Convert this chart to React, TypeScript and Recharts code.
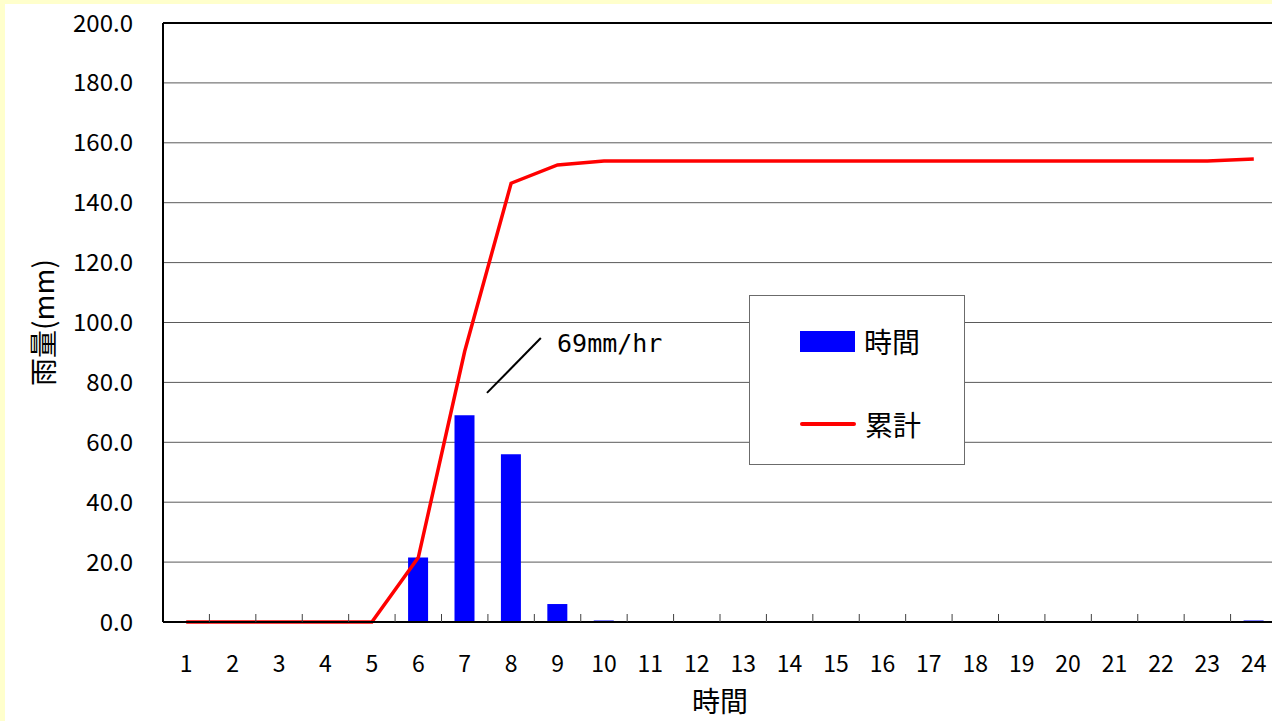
import {
  ComposedChart,
  Bar,
  Line,
  XAxis,
  YAxis,
  CartesianGrid,
  ReferenceLine,
  ReferenceDot,
  Legend,
} from 'recharts';

const hours = ['1', '2', '3', '4', '5', '6', '7', '8', '9', '10', '11', '12', '13', '14', '15', '16', '17', '18', '19', '20', '21', '22', '23', '24'];
const hourly = [0, 0, 0, 0, 0, 21.5, 69, 56, 6, 0.5, 0, 0, 0, 0, 0, 0, 0, 0, 0, 0, 0, 0, 0, 0.5];
const cumulative = [0, 0, 0, 0, 0, 21.5, 90.4, 146.5, 152.6, 153.9, 153.9, 153.9, 153.9, 153.9, 153.9, 153.9, 153.9, 153.9, 153.9, 153.9, 153.9, 153.9, 153.9, 154.6];
const yTicks = [0, 20, 40, 60, 80, 100, 120, 140, 160, 180, 200];

const peakNote = '69mm/hr';
const leaderLine = [
  { x: 7.48, y: 76.5 },
  { x: 8.64, y: 94.8 },
];
const noteAt = { x: 8.99, y: 90.2 };

const FONT = "'Noto Sans CJK JP', 'Liberation Sans', sans-serif";
const TICK_MARGIN = 34;

const data = hours.map((h, i) => ({
  hour: h,
  hourly: hourly[i],
  total: cumulative[i],
}));

// category label plus a small inward tick at the right edge of each band
function HourTick(props: any) {
  const { x, y, payload, index } = props;
  const axisY = y - TICK_MARGIN;
  const edge = payload.coordinate + (payload.offset || 0);
  return (
    <g>
      {index < hours.length - 1 && (
        <line x1={edge} x2={edge} y1={axisY} y2={axisY - 8} stroke="#404040" strokeWidth={1} />
      )}
      <text x={x} y={y} dy="0.71em" textAnchor="middle" fontSize={23} fontFamily={FONT} fill="#000">
        {payload.value}
      </text>
    </g>
  );
}

function YTitle(props: any) {
  const { x, y, height } = props.viewBox;
  const cx = x + 42;
  const cy = y + height / 2;
  return (
    <text
      x={cx}
      y={cy}
      transform={`rotate(-90 ${cx} ${cy})`}
      textAnchor="middle"
      dominantBaseline="central"
      fontSize={28}
      fontFamily={FONT}
      fill="#000"
    >
      雨量(mm)
    </text>
  );
}

function XTitle(props: any) {
  const { x, y, width } = props.viewBox;
  return (
    <text
      x={x + width / 2}
      y={y + 78}
      textAnchor="middle"
      dominantBaseline="central"
      fontSize={28}
      fontFamily={FONT}
      fill="#000"
    >
      時間
    </text>
  );
}

function NoteText(props: any) {
  return (
    <text
      x={props.cx}
      y={props.cy}
      fontSize={25}
      fontFamily="'DejaVu Sans Mono', monospace"
      fill="#000"
    >
      {peakNote}
    </text>
  );
}

function LegendBox(props: any) {
  const items = props.payload || [];
  return (
    <div
      style={{
        width: 216,
        height: 170,
        boxSizing: 'border-box',
        border: '1px solid #6b6b6b',
        background: '#fff',
        position: 'relative',
        fontFamily: FONT,
      }}
    >
      {items.map((item: any, i: number) => {
        const top = i === 0 ? 45 : 128;
        return (
          <div key={item.value} style={{ position: 'absolute', left: 50, top: top - 20, height: 40, display: 'flex', alignItems: 'center' }}>
            {item.type === 'rect' ? (
              <div style={{ width: 55, height: 21, background: item.color }} />
            ) : (
              <div style={{ width: 56, height: 4, borderRadius: 2, background: item.color }} />
            )}
            <span style={{ marginLeft: 9, fontSize: 28, color: '#000', lineHeight: '40px' }}>{item.value}</span>
          </div>
        );
      })}
    </div>
  );
}

export default function App() {
  return (
    <div style={{ position: 'fixed', left: 0, top: 0, width: 1272, height: 721, overflow: 'hidden', background: '#ffffcc' }}>
      <div style={{ position: 'absolute', left: 5, top: 4, right: 0, bottom: 0, background: '#fff' }} />
      <div style={{ position: 'absolute', left: 0, top: 0 }}>
        <ComposedChart
          width={1287}
          height={721}
          data={data}
          margin={{ top: 23, right: 10, bottom: 0, left: 0 }}
          barSize={20}
        >
          {/* numeric helper axis, only used to place the annotation */}
          <XAxis xAxisId="num" type="number" dataKey="x" domain={[0.5, 24.5]} allowDataOverflow hide />
          <XAxis
            dataKey="hour"
            height={99}
            tickLine={false}
            tickSize={0}
            tickMargin={TICK_MARGIN}
            axisLine={{ stroke: '#000', strokeWidth: 2 }}
            tick={HourTick}
            interval={0}
            label={<XTitle />}
          />
          <YAxis
            width={163}
            domain={[0, 200]}
            ticks={yTicks}
            tickFormatter={(v: number) => v.toFixed(1)}
            tickLine={false}
            tickSize={0}
            tickMargin={30}
            axisLine={{ stroke: '#000', strokeWidth: 2 }}
            tick={{ fill: '#000', fontSize: 24, fontFamily: FONT }}
            label={<YTitle />}
          />
          <CartesianGrid vertical={false} stroke="#5a5a5a" strokeWidth={1} />
          <ReferenceLine y={200} stroke="#000" strokeWidth={2} />
          <Bar dataKey="hourly" name="時間" fill="#0000ff" legendType="rect" isAnimationActive={false} />
          <Line
            type="linear"
            dataKey="total"
            name="累計"
            stroke="#ff0000"
            strokeWidth={3.5}
            dot={false}
            activeDot={false}
            legendType="line"
            isAnimationActive={false}
          />
          <ReferenceLine xAxisId="num" segment={leaderLine} stroke="#000" strokeWidth={2} />
          <ReferenceDot xAxisId="num" x={noteAt.x} y={noteAt.y} r={0} shape={NoteText} />
          <Legend
            layout="horizontal"
            verticalAlign="middle"
            align="center"
            wrapperStyle={{ left: 749, top: 295, width: 216, height: 170 }}
            content={LegendBox}
          />
        </ComposedChart>
      </div>
    </div>
  );
}
